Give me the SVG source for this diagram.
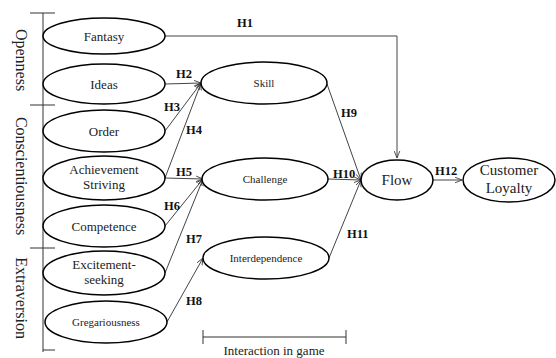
<svg xmlns="http://www.w3.org/2000/svg" width="556" height="358" viewBox="0 0 556 358" font-family="Liberation Serif, serif">
<defs>
<marker id="arr" viewBox="0 0 10 10" refX="10" refY="5" markerWidth="7" markerHeight="7" orient="auto" markerUnits="userSpaceOnUse">
<path d="M0,1 L10,5 L0,9" fill="none" stroke="#333" stroke-width="1.2"/>
</marker>
<style>
.n ellipse{fill:#fff;stroke:#000;stroke-width:1.5}
text{font-family:"Liberation Serif",serif;fill:#222}
.t{font-size:13px;text-anchor:middle}
.s{font-size:11px;text-anchor:middle}
.b{font-size:15px;text-anchor:middle}
.h{font-size:12.5px;font-weight:bold;fill:#111}
.g{font-size:16px;text-anchor:middle}
.c line,.c path{stroke:#444;stroke-width:1;fill:none;marker-end:url(#arr)}
.k{stroke:#333;stroke-width:1;fill:none}
</style>
</defs>
<rect width="556" height="358" fill="#fff"/>
<g id="groups">
<path class="k" d="M43,13 V352 M30,13 H55 M30,105 H55 M30,248 H55 M43,350 H55"/>
<text class="g" transform="translate(16,60) rotate(90)">Openness</text>
<text class="g" transform="translate(16,176) rotate(90)">Conscientiousness</text>
<text class="g" transform="translate(16,298) rotate(90)">Extraversion</text>
</g>
<g class="c" id="connectors">
<path d="M165,36 H397 V158"/>
<line x1="165" y1="84" x2="201" y2="83"/>
<line x1="165" y1="131" x2="201" y2="83"/>
<line x1="165" y1="178" x2="201" y2="83"/>
<line x1="165" y1="178" x2="203" y2="179"/>
<line x1="165" y1="226" x2="203" y2="179"/>
<line x1="165" y1="273" x2="203" y2="179"/>
<line x1="167" y1="322" x2="203" y2="258"/>
<line x1="327" y1="84" x2="361" y2="180"/>
<line x1="328" y1="179" x2="361" y2="180"/>
<line x1="329" y1="258" x2="361" y2="180"/>
<line x1="432" y1="180" x2="462" y2="180"/>
</g>
<g id="labels">
<text class="h" x="237" y="27">H1</text>
<text class="h" x="176" y="78">H2</text>
<text class="h" x="164" y="111">H3</text>
<text class="h" x="186" y="134">H4</text>
<text class="h" x="176" y="176">H5</text>
<text class="h" x="164" y="210">H6</text>
<text class="h" x="186" y="243">H7</text>
<text class="h" x="186" y="305">H8</text>
<text class="h" x="341" y="117">H9</text>
<text class="h" x="333" y="178">H10</text>
<text class="h" x="347" y="238">H11</text>
<text class="h" x="435" y="175">H12</text>
</g>
<g id="fantasy" class="n"><ellipse cx="104" cy="36" rx="61" ry="18"/><text class="t" x="104" y="41">Fantasy</text></g>
<g id="ideas" class="n"><ellipse cx="104" cy="84" rx="61" ry="20"/><text class="t" x="104" y="89">Ideas</text></g>
<g id="order" class="n"><ellipse cx="104" cy="131" rx="61" ry="21"/><text class="t" x="104" y="136">Order</text></g>
<g id="achievement" class="n"><ellipse cx="104" cy="178" rx="61" ry="22"/><text class="t" x="104" y="174">Achievement</text><text class="t" x="104" y="189">Striving</text></g>
<g id="competence" class="n"><ellipse cx="104" cy="226" rx="61" ry="21"/><text class="t" x="104" y="231">Competence</text></g>
<g id="excitement" class="n"><ellipse cx="104" cy="273" rx="61" ry="22"/><text class="t" x="104" y="269">Excitement-</text><text class="t" x="104" y="284">seeking</text></g>
<g id="gregariousness" class="n"><ellipse cx="106" cy="322" rx="61" ry="21"/><text class="s" x="106" y="326">Gregariousness</text></g>
<g id="skill" class="n"><ellipse cx="264" cy="83" rx="63" ry="21"/><text class="s" x="264" y="87">Skill</text></g>
<g id="challenge" class="n"><ellipse cx="265" cy="179" rx="63" ry="21"/><text class="s" x="265" y="183">Challenge</text></g>
<g id="interdependence" class="n"><ellipse cx="266" cy="258" rx="63" ry="21"/><text class="s" x="266" y="262">Interdependence</text></g>
<g id="flow" class="n"><ellipse cx="397" cy="180" rx="36" ry="20"/><text class="b" x="397" y="185">Flow</text></g>
<g id="loyalty" class="n"><ellipse cx="509" cy="180" rx="46" ry="22"/><text class="b" x="509" y="175">Customer</text><text class="b" x="509" y="193">Loyalty</text></g>
<g id="interaction">
<path class="k" d="M203,337 H346 M203,330 V344 M346,330 V344"/>
<text class="t" x="274" y="355">Interaction in game</text>
</g>
</svg>
